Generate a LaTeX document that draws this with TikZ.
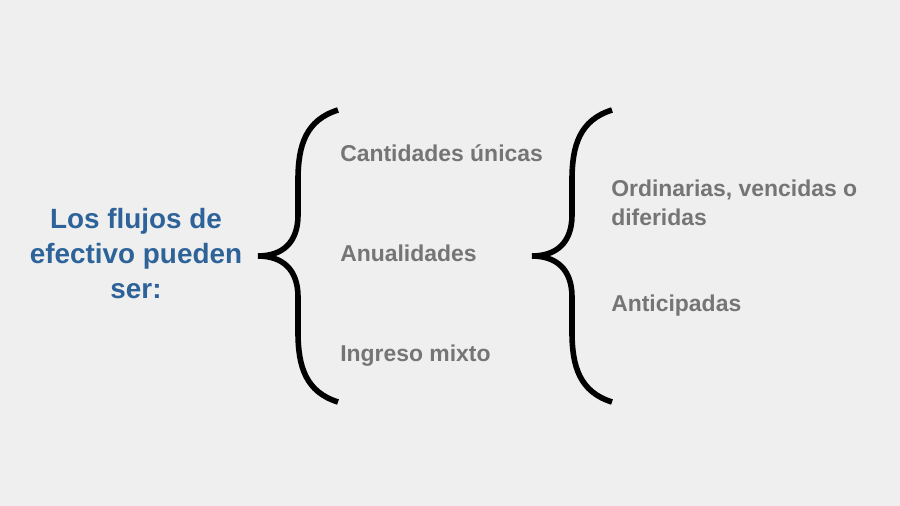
\documentclass[tikz,border=0pt]{standalone}
\usepackage{fontspec}
\setmainfont{Liberation Sans}
\definecolor{bg}{HTML}{EFEFEF}
\definecolor{tblue}{HTML}{2D6399}
\definecolor{tgray}{HTML}{757575}
\tikzset{
  graytext/.style={font=\fontsize{17.2pt}{21.75pt}\selectfont\bfseries, text=tgray, inner sep=0pt, anchor=base west, align=left},
  bluetext/.style={font=\fontsize{20.9pt}{26.25pt}\selectfont\bfseries, text=tblue, inner sep=0pt, anchor=base, align=center},
  bracestyle/.style={draw=black, line width=4.2pt, line join=miter, miter limit=20}
}
\begin{document}
\begin{tikzpicture}[x=0.75pt,y=-0.75pt]
\fill[bg] (0,0) rectangle (900,506);
\useasboundingbox (0,0) rectangle (900,506);
\node[bluetext] (src) at (136,298) {Los flujos de\\efectivo pueden\\ser:};
\node[graytext] (cu) at (340,162) {Cantidades únicas};
\node[graytext] (an) at (340,262) {Anualidades};
\node[graytext] (im) at (340,361.5) {Ingreso mixto};
\node[graytext] (ov) at (611,226) {Ordinarias, vencidas o\\diferidas};
\node[graytext] (ap) at (611,311) {Anticipadas};
\coordinate (b1top) at (338,110);
\coordinate (b1tip) at (258,256);
\coordinate (b1bot) at (338,402);
\coordinate (b2top) at (612,110);
\coordinate (b2tip) at (532,256);
\coordinate (b2bot) at (612,402);
\draw[bracestyle] (b1top) .. controls (306,120) and (298,145) .. (298,180) -- (298,215)
  .. controls (298,243) and (282,256) .. (b1tip)
  .. controls (282,256) and (298,269) .. (298,297) -- (298,332)
  .. controls (298,367) and (306,392) .. (b1bot);
\draw[bracestyle] (b2top) .. controls (580,120) and (572,145) .. (572,180) -- (572,215)
  .. controls (572,243) and (556,256) .. (b2tip)
  .. controls (556,256) and (572,269) .. (572,297) -- (572,332)
  .. controls (572,367) and (580,392) .. (b2bot);
\end{tikzpicture}
\end{document}
